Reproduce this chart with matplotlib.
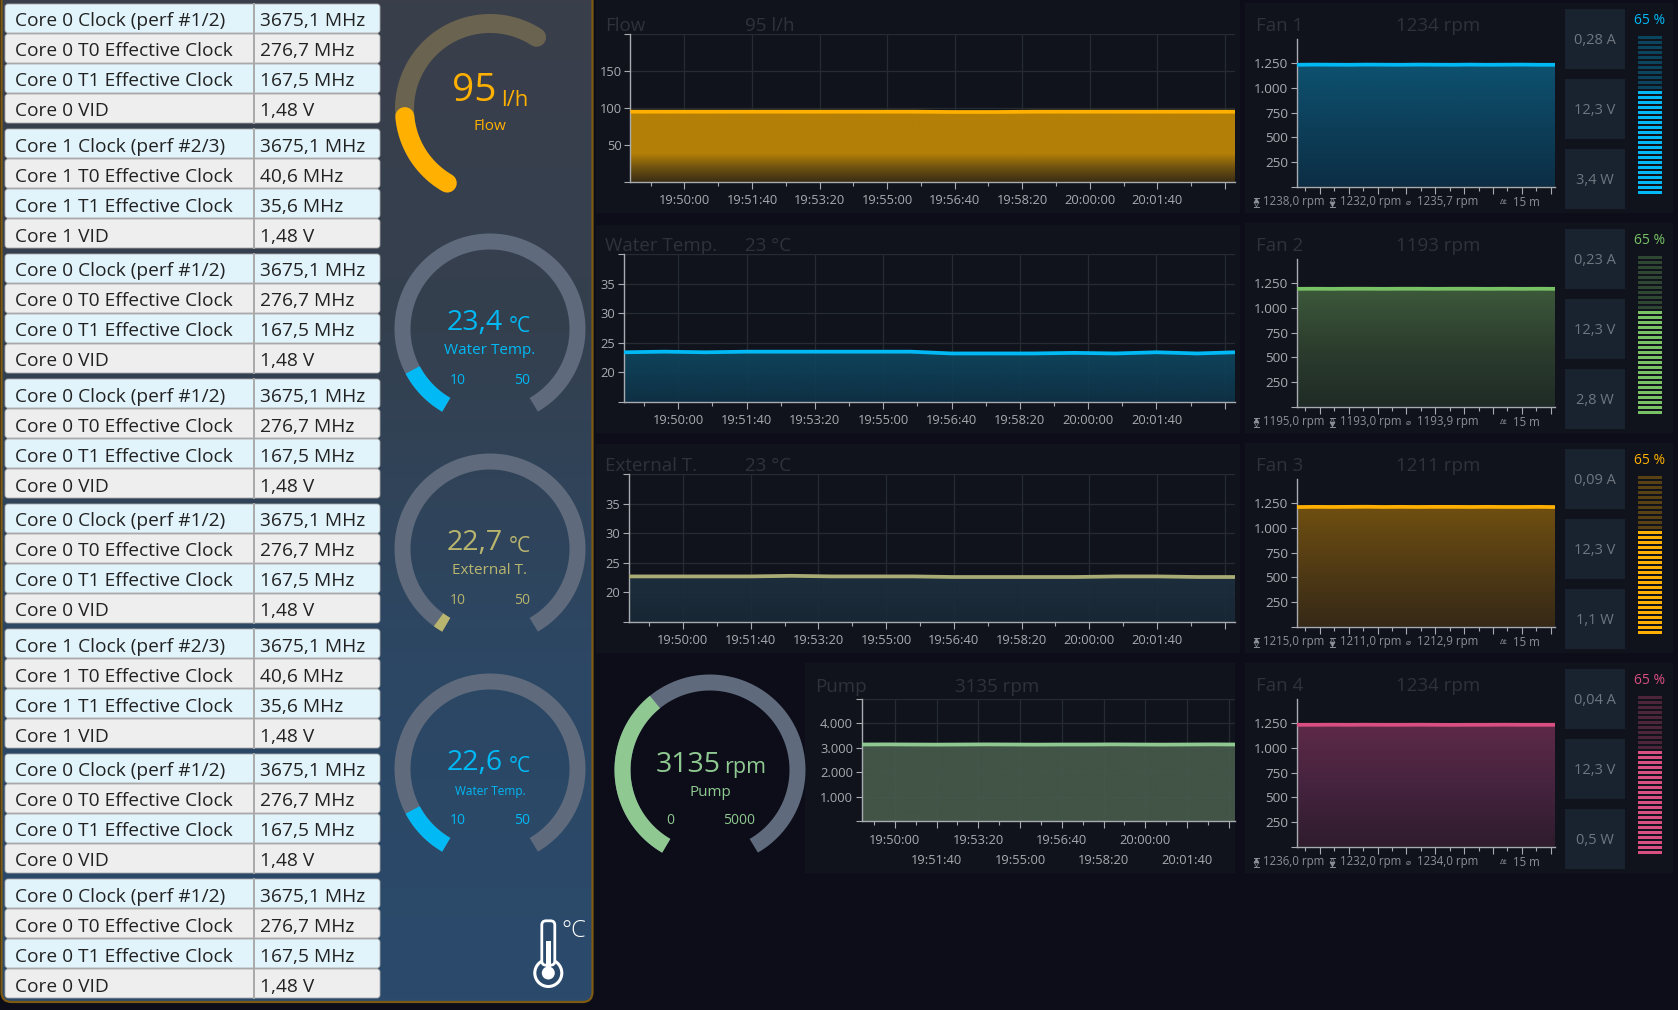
import numpy as np
import matplotlib
matplotlib.use("Agg")
import matplotlib.pyplot as plt
from matplotlib.colors import LinearSegmentedColormap
from matplotlib.patches import FancyBboxPatch, Rectangle, Circle

plt.rcParams['font.family'] = ['Open Sans', 'DejaVu Sans']

W, H = 1678, 1010

# table data
group_a = [("Core 0 Clock (perf #1/2)", "3675,1 MHz"), ("Core 0 T0 Effective Clock", "276,7 MHz"),
           ("Core 0 T1 Effective Clock", "167,5 MHz"), ("Core 0 VID", "1,48 V")]
group_b = [("Core 1 Clock (perf #2/3)", "3675,1 MHz"), ("Core 1 T0 Effective Clock", "40,6 MHz"),
           ("Core 1 T1 Effective Clock", "35,6 MHz"), ("Core 1 VID", "1,48 V")]
table_groups = [group_a, group_b, group_a, group_a, group_a, group_b, group_a, group_a]

# time axis, seconds after 19:50:00
sample_secs = [-80, -20, 40, 100, 160, 220, 280, 340, 400, 460, 520, 580, 640, 700, 760, 815]
major_secs = [0, 100, 200, 300, 400, 500, 600, 700, 800]
minor_secs = [-50, 50, 150, 250, 350, 450, 550, 650, 750]
time_labels = ["19:50:00", "19:51:40", "19:53:20", "19:55:00", "19:56:40", "19:58:20", "20:00:00", "20:01:40", ""]

# series
flow_vals = [95, 95, 95, 95, 95, 95, 95, 95, 94.6, 94.6, 95, 95, 95, 95, 95, 95]
water_vals = [23.4, 23.5, 23.4, 23.5, 23.5, 23.5, 23.5, 23.5, 23.2, 23.2, 23.2, 23.3, 23.2, 23.4, 23.2, 23.4]
ext_vals = [22.7, 22.7, 22.7, 22.7, 22.8, 22.7, 22.7, 22.7, 22.6, 22.6, 22.6, 22.6, 22.7, 22.7, 22.6, 22.6]
pump_vals = [3135, 3140, 3135, 3130, 3135, 3140, 3135, 3130, 3135, 3135, 3140, 3135, 3130, 3135, 3140, 3135]
fan1_vals = [1234, 1236, 1235, 1234, 1236, 1235, 1234, 1236, 1235, 1234, 1236, 1234, 1235, 1236, 1234, 1234]
fan2_vals = [1193, 1194, 1193, 1194, 1194, 1193, 1194, 1194, 1193, 1194, 1194, 1193, 1194, 1193, 1194, 1193]
fan3_vals = [1211, 1213, 1212, 1213, 1214, 1212, 1213, 1212, 1213, 1213, 1212, 1213, 1212, 1212, 1213, 1211]
fan4_vals = [1234, 1234, 1235, 1234, 1235, 1234, 1234, 1235, 1234, 1233, 1234, 1234, 1235, 1234, 1234, 1234]

fan_names = ["Fan 1", "Fan 2", "Fan 3", "Fan 4"]
fan_now = ["1234 rpm", "1193 rpm", "1211 rpm", "1234 rpm"]
fan_amps = ["0,28 A", "0,23 A", "0,09 A", "0,04 A"]
fan_volts = ["12,3 V", "12,3 V", "12,3 V", "12,3 V"]
fan_watts = ["3,4 W", "2,8 W", "1,1 W", "0,5 W"]
fan_max = ["1238,0 rpm", "1195,0 rpm", "1215,0 rpm", "1236,0 rpm"]
fan_min = ["1232,0 rpm", "1193,0 rpm", "1211,0 rpm", "1232,0 rpm"]
fan_avg = ["1235,7 rpm", "1193,9 rpm", "1212,9 rpm", "1234,0 rpm"]
fan_pct = [65, 65, 65, 65]
fan_colors = ["#00b9f5", "#78c265", "#ffb000", "#d94f82"]
fan_grads = [["#0c2e44", "#0d3f5a", "#0d5270"], ["#1f2b26", "#2c3d2e", "#3c583a"],
             ["#362917", "#523b14", "#6f4f10"], ["#2f1c2d", "#45233e", "#5e2a48"]]

# gauges: label, value, unit, scale labels, filled share of the sweep
gauge_labels = ["Water Temp.", "External T.", "Water Temp."]
gauge_values = ["23,4", "22,7", "22,6"]
gauge_fill = [0.107, 0.02, 0.107]
gauge_colors = ["#00b9f5", "#b9b56e", "#00b9f5"]
gauge_rows = [329, 549, 769]
gauge_label_size = [11, 11, 8.5]
flow_fill = 0.30
pump_fill = 0.37

fig = plt.figure(figsize=(W / 100, H / 100), dpi=100, facecolor="#0c0d18")
bg = fig.add_axes([0, 0, 1, 1])
bg.set_xlim(0, W)
bg.set_ylim(H, 0)
bg.axis("off")


def text(x, y, s, size, color, ha="left", va="center", **kw):
    return bg.text(x, y, s, fontsize=size, color=color, ha=ha, va=va, **kw)


# left panel with its gradient
panel = FancyBboxPatch((1.5, -12), 591, 1014, boxstyle="round,pad=0,rounding_size=10",
                       fc="none", ec="#7d5a12", lw=1.6, zorder=3)
bg.add_patch(panel)
panel_cmap = LinearSegmentedColormap.from_list("panel", ["#3a3e4b", "#34404f", "#2c4764", "#2b4a6c"])
im = bg.imshow(np.linspace(0, 1, 256).reshape(-1, 1), cmap=panel_cmap, extent=[0, 593, 1002, 0],
               aspect="auto", zorder=1)
im.set_clip_path(panel)
bg.set_xlim(0, W)
bg.set_ylim(H, 0)

# table
for g, rows in enumerate(table_groups):
    top = 4 + g * 125
    bg.add_patch(Rectangle((7, top + 2), 371, 116, fc="#a9a9a9", ec="none", zorder=4))
    for r, (name, val) in enumerate(rows):
        y = top + r * 30
        fc = "#e1f3fb" if r % 2 == 0 else "#eeeeee"
        bg.add_patch(FancyBboxPatch((8, y + 3), 369, 23, boxstyle="round,pad=3,rounding_size=3",
                                    fc=fc, ec="#a9a9a9", lw=0.6, zorder=5))
        bg.plot([254, 254], [y, y + 29], color="#a9a9a9", lw=1.4, zorder=6)
        text(15, y + 17.5, name, 13.8, "#222222", zorder=7)
        text(260, y + 17.5, val, 13.8, "#222222", zorder=7)


def arc(cx, cy, r, a1, a2, color, width, cap="butt"):
    ang = np.radians(np.linspace(a1, a2, 120))
    bg.plot(cx + r * np.cos(ang), cy - r * np.sin(ang), color=color, lw=width * 0.72,
            solid_capstyle=cap, zorder=6)


START, END = 240, -60

# flow gauge
fc_x, fc_y = 490, 109
arc(fc_x, fc_y, 85.5, 240, 57, "#6a634f", 19, "round")
arc(fc_x, fc_y, 85.5, 240, 240 - flow_fill * 183, "#ffb000", 19, "round")
text(496, 101, "95", 28, "#ffb000", ha="right", va="baseline", zorder=7)
text(501, 106, "l/h", 16, "#ffb000", va="baseline", zorder=7)
text(490, 127, "Flow", 11, "#ffb000", ha="center", zorder=7)

# temperature gauges
for label, val, fill, col, cy, ls in zip(gauge_labels, gauge_values, gauge_fill, gauge_colors, gauge_rows,
                                         gauge_label_size):
    arc(490, cy, 87.5, START, END, "#5f6b7c", 16)
    arc(490, cy, 87.5, START, START - fill * (START - END), col, 16)
    text(503, cy + 1, val, 20.5, col, ha="right", va="baseline", zorder=7)
    text(509, cy + 3, "°C", 15, col, va="baseline", zorder=7)
    text(490, cy + 22, label, ls, col, ha="center", zorder=7)
    text(458, cy + 52, "10", 10, col, ha="center", zorder=7)
    text(522, cy + 52, "50", 10, col, ha="center", zorder=7)

# thermometer
bg.add_patch(Circle((548.3, 973), 13.5, fc="none", ec="white", lw=2.2, zorder=6))
bg.add_patch(Circle((548.3, 973), 6.5, fc="white", ec="none", zorder=7))
bg.add_patch(FancyBboxPatch((544, 923), 8.6, 40, boxstyle="round,pad=2.2,rounding_size=4.3",
                            fc="#2b4a6c", ec="white", lw=2, zorder=7))
bg.add_patch(Rectangle((546, 941), 4.6, 30, fc="white", ec="none", zorder=8))
text(561, 931, "°C", 17, "white", zorder=7, fontweight="light")

# right side panels
for box in [(596, 0, 1240, 213), (596, 225, 1240, 433), (596, 444, 1240, 653), (805, 663, 1235, 873)]:
    bg.add_patch(Rectangle((box[0], box[1]), box[2] - box[0], box[3] - box[1], fc="#10131c", ec="none", zorder=1))
for k in range(4):
    bg.add_patch(Rectangle((1245, 3 + k * 220), 428, 210, fc="#10131c", ec="none", zorder=1))


def add_chart(box, series, color, grad, ylim, yticks, ylabels, grid=True, fade=1.0, major_len=5, labels=True,
              ysize=9.3):
    left, top, right, bottom = box
    ax = fig.add_axes([left / W, 1 - bottom / H, (right - left) / W, (bottom - top) / H], facecolor="none")
    cmap = LinearSegmentedColormap.from_list("fill", grad)
    peak = max(series)
    img = ax.imshow(np.linspace(1, 0, 128).reshape(-1, 1), cmap=cmap, aspect="auto",
                    extent=[sample_secs[0], sample_secs[-1], ylim[0], peak], zorder=1, alpha=fade)
    poly = ax.fill_between(sample_secs, series, ylim[0], facecolor="none", edgecolor="none")
    img.set_clip_path(poly.get_paths()[0], transform=ax.transData)
    ax.plot(sample_secs, series, color=color, lw=2.7, zorder=3, solid_capstyle="butt")
    ax.set_xlim(sample_secs[0], sample_secs[-1])
    ax.set_ylim(ylim)
    ax.set_yticks(yticks)
    ax.set_yticklabels(ylabels)
    ax.set_xticks(major_secs)
    ax.set_xticks(minor_secs, minor=True)
    ax.set_xticklabels(time_labels if labels else [""] * len(major_secs))
    ax.tick_params(axis="x", which="major", length=major_len, width=0.8, color="#a8abb0", labelcolor="#a8abb0",
                   labelsize=9.3, pad=3.5)
    ax.tick_params(axis="x", which="minor", length=3, width=0.8, color="#a8abb0")
    ax.tick_params(axis="y", length=4, width=0.8, color="#a8abb0", labelcolor="#a8abb0", labelsize=ysize, pad=2)
    for s in ["top", "right"]:
        ax.spines[s].set_visible(False)
    for s in ["left", "bottom"]:
        ax.spines[s].set_color("#a8abb0")
        ax.spines[s].set_linewidth(1.0)
    if grid:
        ax.set_axisbelow(True)
        ax.grid(True, which="major", color="#262b32", lw=0.9)
    return ax


# left charts
flow_cols = ["#3b2d14", "#6f5210", "#b47f07", "#b47f07", "#b47f07", "#b47f07"]
add_chart((630.4, 34, 1235, 182), flow_vals, "#ffb000", flow_cols, (0, 200), [0, 50, 100, 150, 200],
          ["", "50", "100", "150", ""])
add_chart((623.7, 254, 1235, 402), water_vals, "#00b9f5", ["#0e3349", "#0e4a63"], (15, 40),
          [15, 20, 25, 30, 35, 40], ["", "20", "25", "30", "35", ""], fade=0.9)
add_chart((628.7, 474, 1235, 622), ext_vals, "#a9ac74", ["#1a2a38", "#1e3040"], (15, 40),
          [15, 20, 25, 30, 35, 40], ["", "20", "25", "30", "35", ""], fade=0.9)
pump_ax = add_chart((861.5, 699, 1235, 821), pump_vals, "#8fc991", ["#475c4c", "#475c4c"], (0, 5000),
                    [0, 1000, 2000, 3000, 4000, 5000], ["", "1.000", "2.000", "3.000", "4.000", ""],
                    fade=0.9, labels=False)
pump_top_labels = time_labels[0::2]
pump_low_labels = time_labels[1::2]
for sec, lab in zip(major_secs[0::2], pump_top_labels):
    pump_ax.annotate(lab, (sec, 0), xytext=(0, -19), xycoords="data", textcoords=("offset pixels"),
                     ha="center", va="center", color="#a8abb0", fontsize=9.3, annotation_clip=False)
for sec, lab in zip(major_secs[1::2], pump_low_labels):
    pump_ax.annotate(lab, (sec, 0), xytext=(0, -39), xycoords="data", textcoords=("offset pixels"),
                     ha="center", va="center", color="#a8abb0", fontsize=9.3, annotation_clip=False)

title_col = "#2e323a"
for y, name, now in [(26, "Flow", "95 l/h"), (246, "Water Temp.", "23 °C"), (466, "External T.", "23 °C")]:
    text(605, y, name, 13.5, title_col)
    text(745, y, now, 13.5, title_col)
text(815, 687, "Pump", 13.5, title_col)
text(955, 687, "3135 rpm", 13.5, title_col)

# pump gauge
arc(710, 770, 87.5, START, END, "#5f6b7c", 16)
arc(710, 770, 87.5, START, START - pump_fill * (START - END), "#8fc991", 16)
text(721, 772, "3135", 20.5, "#8fc991", ha="right", va="baseline", zorder=7)
text(724, 773, "rpm", 15.5, "#8fc991", va="baseline", zorder=7)
text(710, 792, "Pump", 11, "#8fc991", ha="center", zorder=7)
text(670, 821, "0", 10, "#8fc991", ha="center", zorder=7)
text(739, 821, "5000", 10, "#8fc991", ha="center", zorder=7)


def hourglass(x, y, filled_top):
    # no installed font has the hourglass sign
    col = "#8a8f98"
    bg.plot([x], [y - 2], marker="^", ms=3.5, mfc=col if filled_top else "none", mec=col, mew=0.5, zorder=4)
    bg.plot([x], [y + 2], marker="v", ms=3.5, mfc="none" if filled_top else col, mec=col, mew=0.5, zorder=4)
    bg.plot([x - 2.5, x + 2.5], [y - 4.5, y - 4.5], color=col, lw=0.7, zorder=4)
    bg.plot([x - 2.5, x + 2.5], [y + 4.5, y + 4.5], color=col, lw=0.7, zorder=4)


# fans
fan_series = [fan1_vals, fan2_vals, fan3_vals, fan4_vals]
for k in range(4):
    off = k * 220
    add_chart((1296.7, 39 + off, 1555, 186.7 + off), fan_series[k], fan_colors[k], fan_grads[k], (0, 1495),
              [0, 250, 500, 750, 1000, 1250], ["", "250", "500", "750", "1.000", "1.250"], grid=False, labels=False,
              ysize=9.7)
    text(1256, 26 + off, fan_names[k], 13.5, title_col)
    text(1396, 26 + off, fan_now[k], 13.5, title_col)
    stat_y = 202 + off
    hourglass(1256, stat_y, True)
    text(1263, stat_y, fan_max[k], 8.3, "#8a8f98")
    hourglass(1332, stat_y, False)
    text(1340, stat_y, fan_min[k], 8.3, "#8a8f98")
    text(1408, stat_y, "⌀", 6, "#8a8f98", ha="center", family="DejaVu Sans")
    text(1417, stat_y, fan_avg[k], 8.3, "#8a8f98")
    text(1504, stat_y, "Δt", 6, "#8a8f98", ha="center")
    text(1513, stat_y, "15 m", 8.3, "#8a8f98")
    for j, s in enumerate([fan_amps[k], fan_volts[k], fan_watts[k]]):
        y0 = 9 + off + j * 70
        bg.add_patch(Rectangle((1565, y0), 60, 60, fc="#18232f", ec="none", zorder=2))
        text(1595, y0 + 32, s, 10.5, "#6f7680", ha="center", zorder=3)
    text(1650, 20 + off, f"{fan_pct[k]} %", 10, fan_colors[k], ha="center")
    # percent stack
    bar_ax = fig.add_axes([1638 / W, 1 - (194 + off) / H, 24 / W, 160 / H], facecolor="none")
    bar_ax.axis("off")
    n_bars = 32
    levels = np.arange(n_bars)
    lit = (levels + 1) <= round(n_bars * fan_pct[k] / 100)
    bar_ax.barh(levels[lit], np.ones(lit.sum()), height=0.66, color=fan_colors[k], align="edge")
    bar_ax.barh(levels[~lit], np.ones((~lit).sum()), height=0.66, color=fan_colors[k], alpha=0.3, align="edge")
    bar_ax.set_xlim(0, 1)
    bar_ax.set_ylim(0, n_bars)

fig.savefig("out.png", dpi=100, facecolor=fig.get_facecolor())
